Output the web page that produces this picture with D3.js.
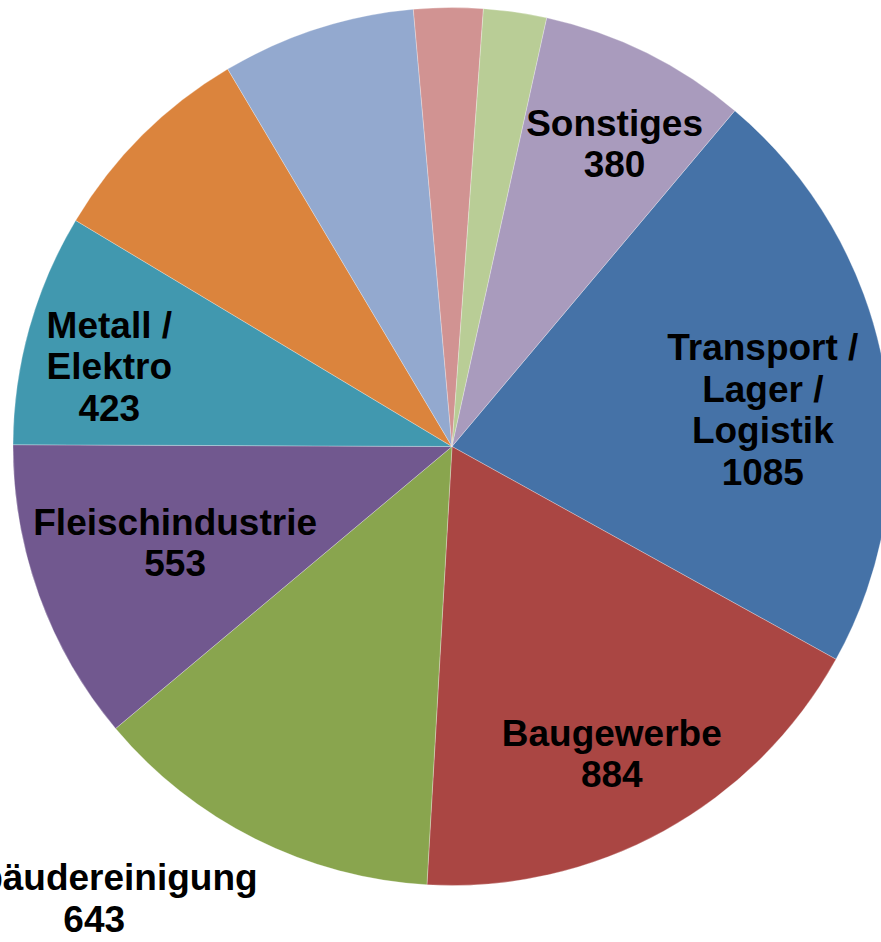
<!DOCTYPE html>
<html>
<head>
<meta charset="utf-8">
<script src="https://cdn.jsdelivr.net/npm/d3@7"></script>
<style>
  html, body { margin: 0; padding: 0; background: #fff; overflow: hidden; }
  svg { display: block; }
  text { font-family: "Liberation Sans", Arial, sans-serif; font-weight: bold; font-size: 37px; fill: #000; }
</style>
</head>
<body>
<svg width="881" height="942"></svg>
<script>
// slices in drawing order (clockwise)
const categories = ["Transport / Lager / Logistik", "Baugewerbe", "Gebäudereinigung", "Fleischindustrie",
                    "Metall / Elektro", "", "", "", "", "Sonstiges"];
const values = [1085, 884, 643, 553, 423, 389, 353, 126, 115, 380];
// text shown on the chart, one entry per line ("" = no label)
const labelLines = [
    ["Transport /", "Lager /", "Logistik", "1085"],
    ["Baugewerbe", "884"],
    ["Gebäudereinigung", "643"],
    ["Fleischindustrie", "553"],
    ["Metall /", "Elektro", "423"],
    [], [], [], [],
    ["Sonstiges", "380"]
];
const colors = ["#4572A7", "#AA4643", "#89A54E", "#71588F", "#4198AF",
                "#DB843D", "#93A9CF", "#D19392", "#B9CD96", "#A99BBD"];

const svg = d3.select("svg");
const width = +svg.attr("width");
const height = +svg.attr("height");

const cx = 452, cy = 446.5, radius = 439;
const startDeg = 40.1;

// where each label block sits: [angle in degrees from 12 o'clock, distance from centre]
const labelPlace = [[83.2, 313], [152.5, 346], [218.4, 576], [250.9, 293], [283.2, 352],
                    null, null, null, null, [28.2, 344]];

const pie = d3.pie()
    .value(d => d)
    .sort(null)
    .startAngle(startDeg * Math.PI / 180)
    .endAngle((startDeg + 360) * Math.PI / 180);

const arc = d3.arc().innerRadius(0).outerRadius(radius);

const g = svg.append("g").attr("transform", `translate(${cx},${cy})`);

g.selectAll("path")
    .data(pie(values))
    .join("path")
    .attr("d", arc)
    .attr("fill", (d, i) => colors[i])
    .attr("stroke", "rgba(255,255,255,0.35)")
    .attr("stroke-width", 0.8);

// labels (Gebäudereinigung runs off the left edge, as in the original)
const lineH = 41.5, capH = 26.5;
labelLines.forEach((lines, i) => {
    if (!lines.length) return;
    const [deg, dist] = labelPlace[i];
    const [x, y] = d3.pointRadial(deg * Math.PI / 180, dist);
    const first = y - ((lines.length - 1) * lineH + capH) / 2 + capH;
    const t = g.append("text").attr("text-anchor", "middle");
    lines.forEach((s, j) => {
        t.append("tspan").attr("x", x).attr("y", first + j * lineH).text(s);
    });
});
</script>
</body>
</html>
